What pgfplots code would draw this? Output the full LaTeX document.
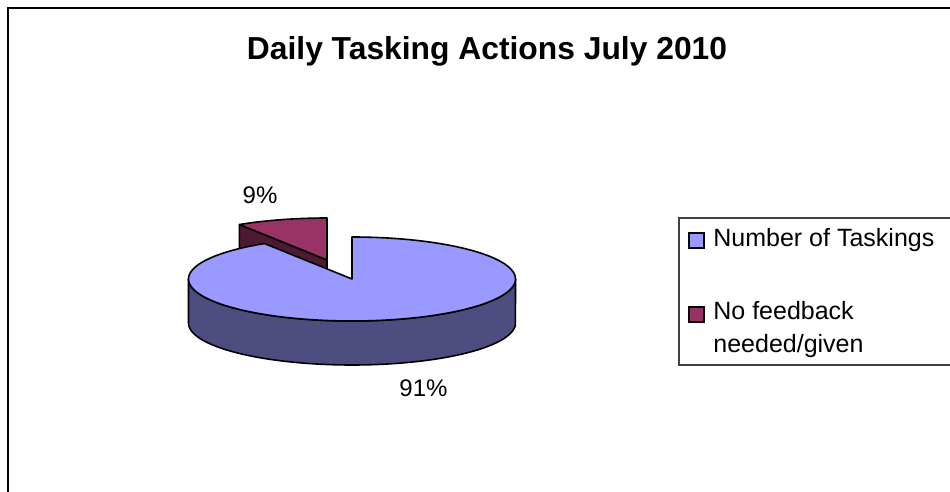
\documentclass[border=0pt]{standalone}
\usepackage{fontspec}
\setmainfont{Liberation Sans}
\usepackage{pgfplots}
\pgfplotsset{compat=1.18}
\definecolor{topblue}{HTML}{9999FF}
\definecolor{sideblue}{HTML}{4D4D80}
\definecolor{maroon}{HTML}{993366}
\definecolor{darkmaroon}{HTML}{4D1A33}
% data (percent)
\def\valA{91}% Number of Taskings
\def\valB{9}%  No feedback needed/given
% geometry (pixel units of the axis)
\def\cx{352}\def\cy{279}\def\rx{163.5}\def\ry{42}\def\hh{44}
\def\sx{327}\def\sy{260}% exploded slice centre
\pgfmathsetmacro\angB{90+360*\valB/(\valA+\valB)}
\pgfmathsetmacro\angEnd{450}
\pgfmathsetmacro\rimx{\sx+\rx*cos(\angB)}
\pgfmathsetmacro\rimy{\sy-\ry*sin(\angB)}
\pgfmathsetmacro\rimyb{\rimy+\hh}
\pgfmathsetmacro\syb{\sy+\hh}
\begin{document}
\begin{tikzpicture}
\path[use as bounding box] (0,0) rectangle (475pt,246pt);
\begin{axis}[at={(0,0)}, anchor=south west, scale only axis,
  width=475pt, height=246pt,
  xmin=0, xmax=950, ymin=0, ymax=492, y dir=reverse,
  axis lines=none, clip=true]
% outer frame
\draw[line width=1.3pt, black] (axis cs:8,700) -- (axis cs:8,8) -- (axis cs:1100,8);
% exploded small slice: radial side face
\addplot[fill=darkmaroon, draw=black, line width=0.8pt, line join=round]
  coordinates {(\sx,\sy) (\rimx,\rimy) (\rimx,\rimyb) (\sx,\syb)} -- cycle;
% exploded small slice: top face
\addplot[fill=maroon, draw=black, line width=0.8pt, line join=round,
  domain=90:\angB, samples=30, variable=\t]
  ({\sx+\rx*cos(\t)},{\sy-\ry*sin(\t)}) -- (axis cs:\sx,\sy) -- cycle;
% main slice: front side
\addplot[fill=sideblue, draw=black, line width=0.8pt, line join=round,
  domain=180:540, samples=181, variable=\t]
  ({\cx+\rx*cos(\t)},{\cy-\ry*sin(\t)+(\t>360)*(\hh+2*\ry*sin(\t))}) -- cycle;
% main slice: top face
\addplot[fill=topblue, draw=black, line width=0.8pt, line join=round,
  domain=\angB:\angEnd, samples=160, variable=\t]
  ({\cx+\rx*cos(\t)},{\cy-\ry*sin(\t)}) -- (axis cs:\cx,\cy) -- cycle;
% labels
\node[anchor=base, inner sep=0, font=\bfseries\fontsize{15.9}{18}\selectfont]
  at (axis cs:487,60) {Daily Tasking Actions July 2010};
\node[anchor=base, inner sep=0, font=\fontsize{12}{14}\selectfont]
  at (axis cs:260,204) {9\%};
\node[anchor=base, inner sep=0, font=\fontsize{12}{14}\selectfont]
  at (axis cs:423.5,397) {91\%};
% legend
\draw[draw=black!75, line width=0.6pt] (axis cs:679,218) rectangle (axis cs:1100,365);
\draw[fill=topblue, draw=black, line width=0.75pt] (axis cs:689,233) rectangle (axis cs:704,248);
\draw[fill=maroon, draw=black, line width=0.75pt] (axis cs:689,307) rectangle (axis cs:704,322);
\node[anchor=base west, inner sep=0, font=\fontsize{12.5}{14}\selectfont]
  at (axis cs:713,247) {Number of Taskings};
\node[anchor=base west, inner sep=0, font=\fontsize{12.5}{14}\selectfont]
  at (axis cs:713,320) {No feedback};
\node[anchor=base west, inner sep=0, font=\fontsize{12.5}{14}\selectfont]
  at (axis cs:713,353) {needed/given};
\end{axis}
\end{tikzpicture}
\end{document}
